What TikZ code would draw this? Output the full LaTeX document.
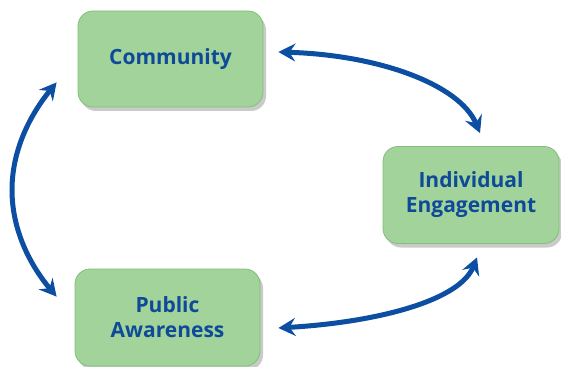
\documentclass[tikz,border=0pt]{standalone}
\usepackage{fontspec}
\setmainfont{Open Sans}
\usetikzlibrary{arrows.meta,shadows}
\definecolor{boxfill}{RGB}{161,211,155}
\definecolor{boxline}{RGB}{128,192,120}
\definecolor{txtblue}{RGB}{14,74,152}
\definecolor{arrblue}{RGB}{12,78,162}
\tikzset{
  box/.style={draw=boxline, line width=0.8pt, fill=boxfill, rounded corners=15pt,
    align=center, text=txtblue, font=\fontsize{21}{25}\selectfont\bfseries,
    drop shadow={shadow xshift=3pt, shadow yshift=-4pt, opacity=0.35, fill=black!60}},
  link/.style={draw=arrblue, line width=5pt,
    {Stealth[length=17pt,width=18pt,inset=6pt]}-{Stealth[length=17pt,width=18pt,inset=6pt]}}
}
\begin{document}
\begin{tikzpicture}[x=1pt,y=-1pt]
\useasboundingbox (0,0) rectangle (561,366);
\node[box, minimum width=185pt, minimum height=96pt] (comm) at (170.5,59) {Community};
\node[box, minimum width=176pt, minimum height=97pt] (ind) at (471,195) {Individual\\Engagement};
\node[box, minimum width=185pt, minimum height=97pt] (pub) at (167.5,317.5) {Public\\Awareness};
\draw[link] ([shift={(15,-7)}]comm.east) .. controls (380,55) and (460,85) .. ([shift={(9,-13)}]ind.north);
\draw[link] ([shift={(18,10.5)}]pub.east) .. controls (380,322) and (460,300) .. ([shift={(6,13.5)}]ind.south);
\draw[link] ([shift={(-21,-25)}]comm.south west) .. controls (30,115) and (12,150) .. (12,190)
  .. controls (12,230) and (30,265) .. ([shift={(-18,28)}]pub.north west);
\end{tikzpicture}
\end{document}
